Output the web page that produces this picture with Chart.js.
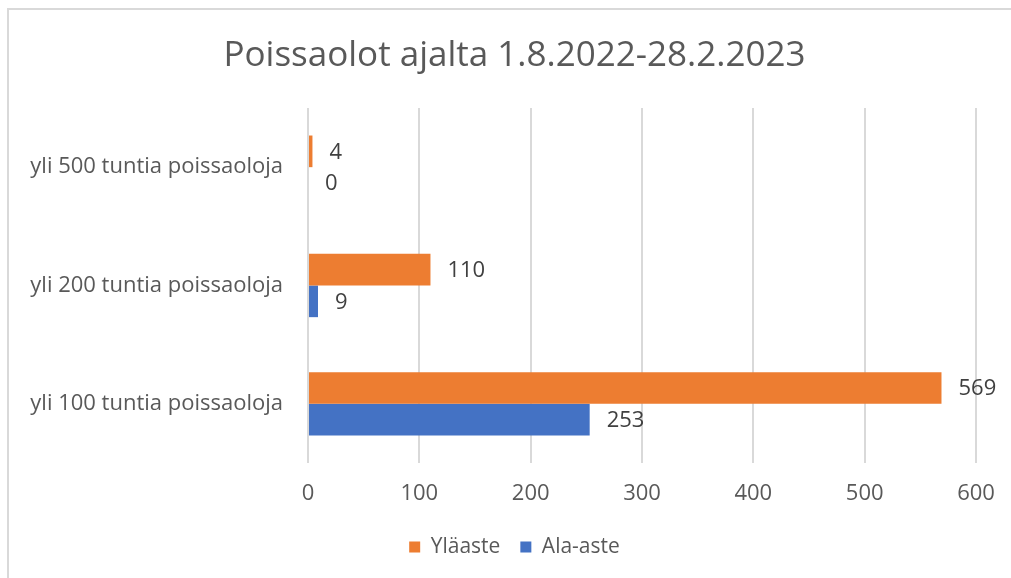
<!DOCTYPE html>
<html>
<head>
<meta charset="utf-8">
<script src="https://cdn.jsdelivr.net/npm/chart.js@4.4.0/dist/chart.umd.min.js"></script>
<style>
html,body{margin:0;padding:0;background:#fff;}
canvas{display:block;}
</style>
</head>
<body>
<canvas id="c" width="1011" height="578"></canvas>
<script>
const categories = ["yli 500 tuntia poissaoloja", "yli 200 tuntia poissaoloja", "yli 100 tuntia poissaoloja"];
const seriesNames = ["Yläaste", "Ala-aste"];
const ylaaste = [4, 110, 569];
const alaaste = [0, 9, 253];
const xTicks = [0, 100, 200, 300, 400, 500, 600];
const titleText = "Poissaolot ajalta 1.8.2022-28.2.2023";

const FONT = "'Open Sans', 'Noto Sans', sans-serif";
const TXT = "#595959";
const GRID = "#d9d9d9";

const framePlugin = {
  id: 'frame',
  beforeDraw(chart) {
    const ctx = chart.ctx;
    ctx.save();
    ctx.fillStyle = '#fff';
    ctx.fillRect(0, 0, chart.width, chart.height);
    ctx.fillStyle = GRID;
    ctx.fillRect(7, 8, chart.width - 7, 2);
    ctx.fillRect(7, 8, 2, chart.height - 8);
    ctx.restore();
  }
};

const labelPlugin = {
  id: 'valueLabels',
  afterDatasetsDraw(chart) {
    const ctx = chart.ctx;
    ctx.save();
    ctx.font = "22px " + FONT;
    ctx.fillStyle = "#404040";
    ctx.textAlign = 'left';
    ctx.textBaseline = 'middle';
    chart.data.datasets.forEach((ds, di) => {
      const meta = chart.getDatasetMeta(di);
      meta.data.forEach((el, i) => {
        ctx.fillText(String(ds.data[i]), el.x + 17, el.y + 1);
      });
    });
    ctx.restore();
  }
};

new Chart(document.getElementById('c'), {
  type: 'bar',
  data: {
    labels: categories,
    datasets: [
      { label: seriesNames[0], data: ylaaste, backgroundColor: '#ED7D31', borderWidth: 0 },
      { label: seriesNames[1], data: alaaste, backgroundColor: '#4472C4', borderWidth: 0 }
    ]
  },
  options: {
    indexAxis: 'y',
    responsive: false,
    animation: false,
    devicePixelRatio: 1,
    datasets: { bar: { categoryPercentage: 0.535, barPercentage: 1.0 } },
    layout: { padding: { left: 18, right: 0, top: 10, bottom: 10.5 } },
    scales: {
      x: {
        min: 0, max: 600,
        afterBuildTicks(scale) { scale.ticks = xTicks.map(v => ({ value: v })); },
        afterFit(scale) { scale.height = 53.5; scale.paddingRight = 35; },
        grid: { color: GRID, lineWidth: 2, drawTicks: false },
        border: { display: false },
        ticks: { color: TXT, font: { family: FONT, size: 22 }, padding: 18 }
      },
      y: {
        afterFit(scale) { scale.width = 290; },
        grid: { display: false, drawTicks: false },
        border: { display: false },
        ticks: { color: TXT, font: { family: FONT, size: 22 }, padding: 25 }
      }
    },
    plugins: {
      title: {
        display: true,
        text: titleText,
        color: TXT,
        font: { family: FONT, size: 35, weight: 'normal' },
        padding: { top: 25, bottom: 31 }
      },
      legend: {
        position: 'bottom',
        labels: {
          color: TXT,
          font: { family: FONT, size: 21 },
          boxWidth: 11, boxHeight: 11,
          padding: 20
        }
      },
      tooltip: { enabled: false }
    }
  },
  plugins: [framePlugin, labelPlugin]
});
</script>
</body>
</html>
